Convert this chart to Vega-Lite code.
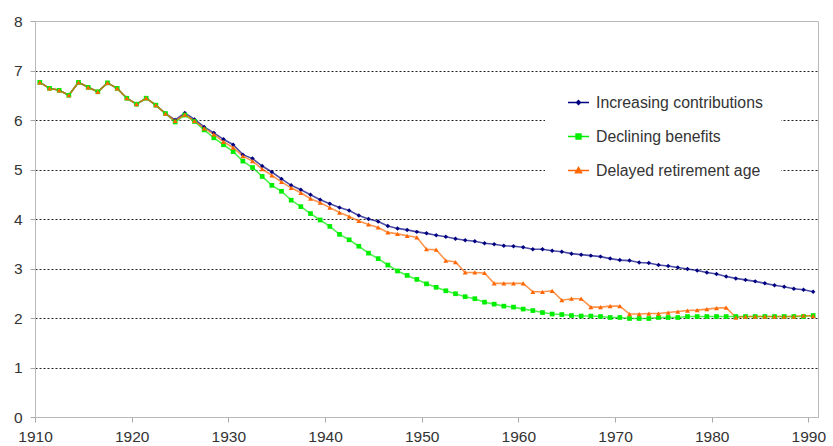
{
  "$schema": "https://vega.github.io/schema/vega-lite/v6.json",
  "width": 783,
  "height": 396,
  "autosize": "none",
  "padding": {"left": 35, "top": 21, "right": 15, "bottom": 29},
  "background": "white",
  "config": {
    "view": {"stroke": "#b8b8b8", "strokeWidth": 1},
    "font": "Liberation Sans",
    "axis": {"labelFont": "Liberation Sans", "labelFontSize": 15.5, "labelColor": "#333333", "tickColor": "#a8a8a8", "domainColor": "#b8b8b8", "tickSize": 5, "title": null}
  },
  "data": {
    "values": [
      {"year": 1910, "inc": 6.76, "dec": 6.76, "del": 6.76},
      {"year": 1911, "inc": 6.64, "dec": 6.64, "del": 6.64},
      {"year": 1912, "inc": 6.60, "dec": 6.60, "del": 6.60},
      {"year": 1913, "inc": 6.50, "dec": 6.50, "del": 6.50},
      {"year": 1914, "inc": 6.76, "dec": 6.76, "del": 6.76},
      {"year": 1915, "inc": 6.66, "dec": 6.66, "del": 6.66},
      {"year": 1916, "inc": 6.57, "dec": 6.57, "del": 6.57},
      {"year": 1917, "inc": 6.75, "dec": 6.75, "del": 6.75},
      {"year": 1918, "inc": 6.64, "dec": 6.64, "del": 6.64},
      {"year": 1919, "inc": 6.44, "dec": 6.44, "del": 6.44},
      {"year": 1920, "inc": 6.32, "dec": 6.32, "del": 6.32},
      {"year": 1921, "inc": 6.44, "dec": 6.44, "del": 6.44},
      {"year": 1922, "inc": 6.30, "dec": 6.30, "del": 6.30},
      {"year": 1923, "inc": 6.13, "dec": 6.13, "del": 6.13},
      {"year": 1924, "inc": 6.00, "dec": 5.96, "del": 5.98},
      {"year": 1925, "inc": 6.14, "dec": 6.10, "del": 6.11},
      {"year": 1926, "inc": 6.01, "dec": 5.97, "del": 5.98},
      {"year": 1927, "inc": 5.86, "dec": 5.80, "del": 5.83},
      {"year": 1928, "inc": 5.74, "dec": 5.64, "del": 5.71},
      {"year": 1929, "inc": 5.61, "dec": 5.50, "del": 5.56},
      {"year": 1930, "inc": 5.50, "dec": 5.36, "del": 5.44},
      {"year": 1931, "inc": 5.30, "dec": 5.17, "del": 5.27},
      {"year": 1932, "inc": 5.22, "dec": 5.04, "del": 5.17},
      {"year": 1933, "inc": 5.07, "dec": 4.86, "del": 5.01},
      {"year": 1934, "inc": 4.95, "dec": 4.68, "del": 4.88},
      {"year": 1935, "inc": 4.81, "dec": 4.56, "del": 4.75},
      {"year": 1936, "inc": 4.68, "dec": 4.38, "del": 4.63},
      {"year": 1937, "inc": 4.59, "dec": 4.25, "del": 4.53},
      {"year": 1938, "inc": 4.49, "dec": 4.11, "del": 4.41},
      {"year": 1939, "inc": 4.39, "dec": 3.98, "del": 4.33},
      {"year": 1940, "inc": 4.31, "dec": 3.85, "del": 4.23},
      {"year": 1941, "inc": 4.23, "dec": 3.69, "del": 4.13},
      {"year": 1942, "inc": 4.17, "dec": 3.58, "del": 4.05},
      {"year": 1943, "inc": 4.07, "dec": 3.45, "del": 3.96},
      {"year": 1944, "inc": 4.00, "dec": 3.31, "del": 3.89},
      {"year": 1945, "inc": 3.95, "dec": 3.20, "del": 3.83},
      {"year": 1946, "inc": 3.86, "dec": 3.07, "del": 3.73},
      {"year": 1947, "inc": 3.81, "dec": 2.95, "del": 3.70},
      {"year": 1948, "inc": 3.78, "dec": 2.86, "del": 3.66},
      {"year": 1949, "inc": 3.74, "dec": 2.78, "del": 3.63},
      {"year": 1950, "inc": 3.71, "dec": 2.69, "del": 3.39},
      {"year": 1951, "inc": 3.67, "dec": 2.62, "del": 3.38},
      {"year": 1952, "inc": 3.64, "dec": 2.55, "del": 3.16},
      {"year": 1953, "inc": 3.60, "dec": 2.49, "del": 3.13},
      {"year": 1954, "inc": 3.57, "dec": 2.43, "del": 2.92},
      {"year": 1955, "inc": 3.55, "dec": 2.39, "del": 2.92},
      {"year": 1956, "inc": 3.51, "dec": 2.32, "del": 2.91},
      {"year": 1957, "inc": 3.49, "dec": 2.28, "del": 2.70},
      {"year": 1958, "inc": 3.46, "dec": 2.24, "del": 2.70},
      {"year": 1959, "inc": 3.45, "dec": 2.22, "del": 2.70},
      {"year": 1960, "inc": 3.43, "dec": 2.18, "del": 2.70},
      {"year": 1961, "inc": 3.39, "dec": 2.15, "del": 2.53},
      {"year": 1962, "inc": 3.39, "dec": 2.11, "del": 2.53},
      {"year": 1963, "inc": 3.36, "dec": 2.08, "del": 2.55},
      {"year": 1964, "inc": 3.34, "dec": 2.07, "del": 2.36},
      {"year": 1965, "inc": 3.30, "dec": 2.05, "del": 2.39},
      {"year": 1966, "inc": 3.28, "dec": 2.04, "del": 2.39},
      {"year": 1967, "inc": 3.26, "dec": 2.04, "del": 2.22},
      {"year": 1968, "inc": 3.24, "dec": 2.03, "del": 2.22},
      {"year": 1969, "inc": 3.20, "dec": 2.01, "del": 2.24},
      {"year": 1970, "inc": 3.17, "dec": 2.01, "del": 2.24},
      {"year": 1971, "inc": 3.16, "dec": 1.99, "del": 2.08},
      {"year": 1972, "inc": 3.12, "dec": 1.99, "del": 2.08},
      {"year": 1973, "inc": 3.11, "dec": 1.99, "del": 2.09},
      {"year": 1974, "inc": 3.07, "dec": 2.01, "del": 2.09},
      {"year": 1975, "inc": 3.05, "dec": 2.01, "del": 2.11},
      {"year": 1976, "inc": 3.02, "dec": 2.01, "del": 2.13},
      {"year": 1977, "inc": 2.99, "dec": 2.03, "del": 2.15},
      {"year": 1978, "inc": 2.96, "dec": 2.03, "del": 2.16},
      {"year": 1979, "inc": 2.92, "dec": 2.03, "del": 2.18},
      {"year": 1980, "inc": 2.89, "dec": 2.03, "del": 2.20},
      {"year": 1981, "inc": 2.84, "dec": 2.03, "del": 2.21},
      {"year": 1982, "inc": 2.80, "dec": 2.03, "del": 2.01},
      {"year": 1983, "inc": 2.77, "dec": 2.03, "del": 2.03},
      {"year": 1984, "inc": 2.74, "dec": 2.03, "del": 2.03},
      {"year": 1985, "inc": 2.70, "dec": 2.03, "del": 2.03},
      {"year": 1986, "inc": 2.66, "dec": 2.03, "del": 2.03},
      {"year": 1987, "inc": 2.63, "dec": 2.03, "del": 2.03},
      {"year": 1988, "inc": 2.59, "dec": 2.03, "del": 2.03},
      {"year": 1989, "inc": 2.57, "dec": 2.03, "del": 2.05},
      {"year": 1990, "inc": 2.53, "dec": 2.05, "del": 2.04}
    ]
  },
  "transform": [
    {"fold": ["inc", "dec", "del"], "as": ["key", "value"]},
    {"lookup": "key", "from": {"data": {"values": [
      {"key": "inc", "series": "Increasing contributions"},
      {"key": "dec", "series": "Declining benefits"},
      {"key": "del", "series": "Delayed retirement age"}
    ]}, "key": "key", "fields": ["series"]}}
  ],
  "encoding": {
    "x": {
      "field": "year", "type": "quantitative",
      "scale": {"domain": [1909.5, 1990.5], "nice": false, "zero": false},
      "axis": {
        "values": [1909.5, 1919.5, 1929.5, 1939.5, 1949.5, 1959.5, 1969.5, 1979.5, 1989.5],
        "labelExpr": "format(datum.value + 0.5, 'd')",
        "grid": false, "labelPadding": 7, "labelFlush": false
      }
    },
    "y": {
      "field": "value", "type": "quantitative",
      "scale": {"domain": [0, 8], "nice": false},
      "axis": {
        "values": [0, 1, 2, 3, 4, 5, 6, 7, 8],
        "grid": true,
        "gridDash": [2, 2],
        "gridColor": {"condition": {"test": "datum.value === 0 || datum.value === 8", "value": "transparent"}, "value": "#222222"},
        "labelPadding": 8
      }
    },
    "color": {
      "field": "series", "type": "nominal",
      "scale": {"domain": ["Increasing contributions", "Declining benefits", "Delayed retirement age"], "range": ["#000080", "#00ee00", "#ff6600"]},
      "legend": {
        "title": null,
        "orient": "none",
        "legendX": 510,
        "legendY": 52,
        "padding": 18,
        "fillColor": "white",
        "symbolType": {"expr": "datum.value === 'Increasing contributions' ? 'M-1,0H1M0,-0.2L0.2,0L0,0.2L-0.2,0Z' : (datum.value === 'Declining benefits' ? 'M-1,0H1M-0.24,-0.24H0.24V0.24H-0.24Z' : 'M-1,0H1M0,-0.3L0.3,0.22L-0.3,0.22Z')"},
        "symbolSize": 441,
        "symbolStrokeWidth": 1.3,
        "symbolStrokeColor": {"expr": "scale('color', datum.value)"},
        "symbolFillColor": {"expr": "scale('color', datum.value)"},
        "symbolOpacity": 1,
        "symbolOffset": 4,
        "labelOffset": 6,
        "labelLimit": 400,
        "rowPadding": 14,
        "labelFont": "Liberation Sans",
        "labelFontSize": 15.8,
        "labelColor": "#333333"
      }
    }
  },
  "layer": [
    {
      "mark": {"type": "line", "strokeWidth": 1.6, "opacity": 0.7}
    },
    {
      "mark": {"type": "point", "filled": true, "opacity": 1},
      "encoding": {
        "shape": {"field": "key", "type": "nominal", "scale": {"domain": ["inc", "dec", "del"], "range": ["diamond", "square", "triangle-up"]}, "legend": null},
        "size": {"field": "key", "type": "nominal", "scale": {"domain": ["inc", "dec", "del"], "range": [20, 24, 30]}, "legend": null}
      }
    }
  ]
}
